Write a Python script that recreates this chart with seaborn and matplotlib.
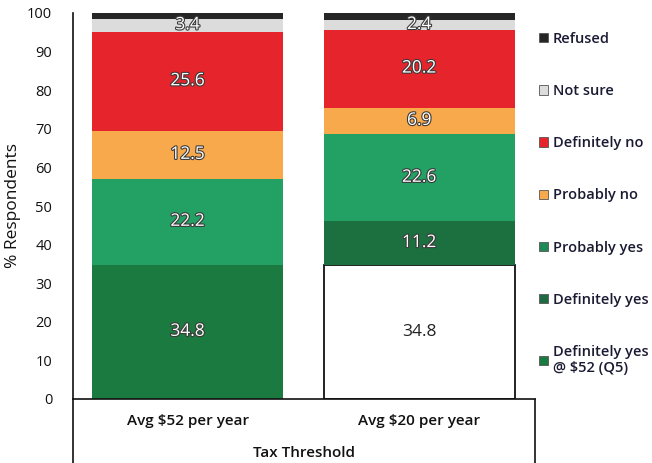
import matplotlib
matplotlib.use("Agg")
import matplotlib.pyplot as plt
import matplotlib.patheffects as pe
from matplotlib.patches import Patch
from matplotlib.lines import Line2D
import seaborn as sns
import numpy as np

sns.set_theme(style="white")
plt.rcParams['font.family'] = ['Open Sans', 'DejaVu Sans']

categories = ["Avg $52 per year", "Avg $20 per year"]
series_names = ["Definitely yes @ $52 (Q5)", "Definitely yes", "Probably yes",
                "Probably no", "Definitely no", "Not sure", "Refused"]
base_q5 = [34.8, 34.8]
definitely_yes = [0.0, 11.2]
probably_yes = [22.2, 22.6]
probably_no = [12.5, 6.9]
definitely_no = [25.6, 20.2]
not_sure = [3.4, 2.4]
refused = [1.5, 1.9]
series_values = [base_q5, definitely_yes, probably_yes, probably_no,
                 definitely_no, not_sure, refused]
labelled = {"Definitely yes @ $52 (Q5)", "Definitely yes", "Probably yes",
            "Probably no", "Definitely no", "Not sure"}

colors = {
    "Definitely yes @ $52 (Q5)": ["#1b7a3f", "#ffffff"],
    "Definitely yes": ["#1c7040", "#1c7040"],
    "Probably yes": ["#23a063", "#23a063"],
    "Probably no": ["#f8a94c", "#f8a94c"],
    "Definitely no": ["#e5252b", "#e5252b"],
    "Not sure": ["#dcdcdc", "#dcdcdc"],
    "Refused": ["#262626", "#262626"],
}
legend_colors = {
    "Refused": "#262626", "Not sure": "#dcdcdc", "Definitely no": "#e5252b",
    "Probably no": "#f8a94c", "Probably yes": "#1f8a57", "Definitely yes": "#1f6a42",
    "Definitely yes @ $52 (Q5)": "#1b7a3f",
}

W, H = 652, 463
fig = plt.figure(figsize=(W / 100, H / 100), dpi=100)
ax = fig.add_axes([73 / W, (H - 399) / H, (535 - 73) / W, (399 - 13) / H])

bottom = np.zeros(len(categories))
for name, vals in zip(series_names, series_values):
    vals = np.array(vals, dtype=float)
    for i, cat in enumerate(categories):
        v = vals[i]
        if v <= 0:
            continue
        c = colors[name][i]
        white_seg = c == "#ffffff"
        sns.barplot(x=[cat], y=[v], order=categories, color=c, bottom=bottom[i],
                    width=0.825, ax=ax, saturation=1,
                    edgecolor="#111111" if white_seg else "none",
                    linewidth=1.3 if white_seg else 0)
        if name in labelled:
            txt_color = "#222222" if white_seg else "white"
            t = ax.text(i, bottom[i] + v / 2, f"{v:.1f}", ha="center", va="center",
                        fontsize=12.5, color=txt_color)
            if not white_seg:
                t.set_path_effects([pe.withStroke(linewidth=1.6, foreground="#3a3a3a")])
    bottom = bottom + vals

ax.set_xlim(-0.495, 1.5)
ax.set_ylim(0, 100)
ax.set_yticks(range(0, 101, 10))
ax.tick_params(axis="y", length=0, pad=15, labelsize=10.5, colors="#111111")
ax.tick_params(axis="x", length=0, pad=11, labelsize=11, colors="#111111")
for lab in ax.get_xticklabels():
    lab.set_fontweight("semibold")
ax.set_ylabel("% Respondents", fontsize=12.5, color="#111111", labelpad=4)
ax.set_xlabel("Tax Threshold", fontsize=11, fontweight="semibold", color="#111111", labelpad=13)
for s in ["top", "right"]:
    ax.spines[s].set_visible(False)
for s in ["left", "bottom"]:
    ax.spines[s].set_color("#111111")
    ax.spines[s].set_linewidth(1.2)

# box lines below the axis
ext = -(H - 399) / (399 - 13)
ax.add_line(Line2D([0, 0], [0, ext], transform=ax.transAxes, color="#111111", lw=1.2, clip_on=False))
ax.add_line(Line2D([1, 1], [0, ext], transform=ax.transAxes, color="#111111", lw=1.2, clip_on=False))

leg_order = ["Refused", "Not sure", "Definitely no", "Probably no", "Probably yes",
             "Definitely yes", "Definitely yes @ $52 (Q5)"]
leg_labels = [("Definitely yes\n@ $52 (Q5)" if n.startswith("Definitely yes @") else n) for n in leg_order]
handles = [Patch(facecolor=legend_colors[n], edgecolor="#555555", linewidth=0.6) for n in leg_order]
leg = fig.legend(handles, leg_labels, loc="upper left", bbox_to_anchor=(533 / W, 1 - 26 / H),
                 frameon=False, fontsize=10.5, labelspacing=2.62, handlelength=0.6,
                 handleheight=0.6, handletextpad=0.35, borderaxespad=0)
for t in leg.get_texts():
    t.set_fontweight("semibold")
    t.set_color("#1a1a33")

fig.savefig("out.png", dpi=100)
